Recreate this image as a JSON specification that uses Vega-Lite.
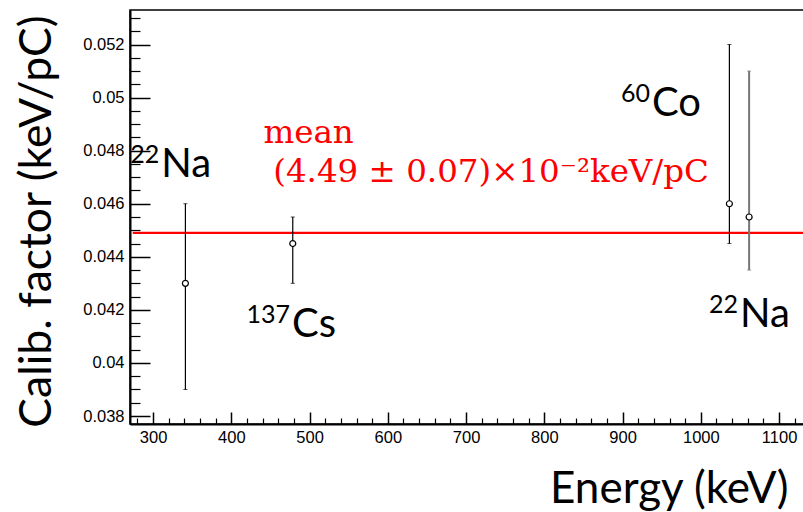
{
  "$schema": "https://vega.github.io/schema/vega-lite/v6.json",
  "width": 676,
  "height": 414,
  "autosize": {"type": "none"},
  "padding": {"left": 130, "top": 10, "right": 0, "bottom": 88},
  "background": "white",
  "config": {
    "view": {"stroke": "black", "strokeWidth": 1.5},
    "axis": {"grid": false, "domainColor": "black", "tickColor": "black", "labelColor": "black", "titleColor": "black"}
  },
  "datasets": {
    "pts": [
      {"E": 341.3, "v": 0.0430, "lo": 0.0390, "hi": 0.0460, "grp": "main"},
      {"E": 478.5, "v": 0.0445, "lo": 0.0430, "hi": 0.0455, "grp": "main"},
      {"E": 1036.5, "v": 0.0460, "lo": 0.0445, "hi": 0.0520, "grp": "main"},
      {"E": 1061.7, "v": 0.0455, "lo": 0.0435, "hi": 0.0510, "grp": "alt"}
    ],
    "labels": [
      {"iso": "22", "el": "Na", "E": 310.5, "v": 0.04701},
      {"iso": "137", "el": "Cs", "E": 477.5, "v": 0.04099},
      {"iso": "60", "el": "Co", "E": 937.5, "v": 0.04929},
      {"iso": "22", "el": "Na", "E": 1050, "v": 0.04137}
    ],
    "meanline": [{"mean": 0.0449, "xs": 274, "xe": 1133}],
    "meantext": [
      {"txt": "mean", "E": 441, "v": 0.04829},
      {"txt": "(4.49 ± 0.07)×10⁻²keV/pC", "E": 453.5, "v": 0.04683}
    ]
  },
  "resolve": {"scale": {"x": "independent", "y": "independent"}},
  "layer": [
    {
      "layer": [
        {
          "data": {"name": "meanline"},
          "mark": {"type": "rule", "color": "#ff0000", "strokeWidth": 2.4},
          "encoding": {
            "x": {"field": "xs", "type": "quantitative",
              "scale": {"domain": [270.5, 1134.4], "nice": false, "zero": false},
              "axis": {"orient": "bottom", "values": [300, 400, 500, 600, 700, 800, 900, 1000, 1100], "format": "d",
                "tickSize": -12, "tickWidth": 1.5, "domainWidth": 2, "labelPadding": 17,
                "labelFont": "Liberation Sans", "labelFontSize": 16.5, "labelBaseline": "top",
                "title": "Energy (keV)", "titleFont": "Lato", "titleFontSize": 44, "titleFontWeight": "normal",
                "titleAnchor": "end", "titleAlign": "right", "titleBaseline": "alphabetic",
                "titleX": 658, "titleY": 78}},
            "x2": {"field": "xe"},
            "y": {"field": "mean", "type": "quantitative",
              "scale": {"domain": [0.0377, 0.0533], "nice": false, "zero": false},
              "axis": {"orient": "left", "values": [0.038, 0.040, 0.042, 0.044, 0.046, 0.048, 0.050, 0.052],
                "format": "~g", "tickSize": -20, "tickWidth": 1.5, "domainWidth": 2, "labelPadding": 26,
                "labelFont": "Liberation Sans", "labelFontSize": 16.5,
                "title": "Calib. factor (keV/pC)", "titleFont": "Lato", "titleFontSize": 44.5, "titleFontWeight": "normal",
                "titleAngle": -90, "titleAlign": "center", "titleBaseline": "alphabetic",
                "titleX": -80, "titleY": 211}}
          }
        },
        {
          "data": {"name": "pts"},
          "mark": {"type": "rule"},
          "encoding": {
            "x": {"field": "E", "type": "quantitative"},
            "y": {"field": "lo", "type": "quantitative"},
            "y2": {"field": "hi"},
            "color": {"field": "grp", "type": "nominal", "scale": {"domain": ["main", "alt"], "range": ["black", "#777777"]}, "legend": null},
            "strokeWidth": {"field": "grp", "type": "nominal", "scale": {"domain": ["main", "alt"], "range": [1.2, 2]}, "legend": null}
          }
        },
        {
          "data": {"name": "pts"},
          "mark": {"type": "tick", "orient": "horizontal", "size": 4, "thickness": 1},
          "encoding": {
            "x": {"field": "E", "type": "quantitative"},
            "y": {"field": "lo", "type": "quantitative"},
            "color": {"field": "grp", "type": "nominal", "legend": null}
          }
        },
        {
          "data": {"name": "pts"},
          "mark": {"type": "tick", "orient": "horizontal", "size": 4, "thickness": 1},
          "encoding": {
            "x": {"field": "E", "type": "quantitative"},
            "y": {"field": "hi", "type": "quantitative"},
            "color": {"field": "grp", "type": "nominal", "legend": null}
          }
        },
        {
          "data": {"name": "pts"},
          "mark": {"type": "point", "shape": "circle", "filled": false, "fill": "white", "fillOpacity": 1, "stroke": "black", "strokeWidth": 1.2, "size": 36, "opacity": 1},
          "encoding": {
            "x": {"field": "E", "type": "quantitative"},
            "y": {"field": "v", "type": "quantitative"}
          }
        },
        {
          "data": {"name": "labels"},
          "mark": {"type": "text", "font": "Lato", "fontSize": 40, "align": "left", "baseline": "alphabetic", "color": "black"},
          "encoding": {
            "x": {"field": "E", "type": "quantitative"},
            "y": {"field": "v", "type": "quantitative"},
            "text": {"field": "el"}
          }
        },
        {
          "data": {"name": "labels"},
          "mark": {"type": "text", "font": "Lato", "fontSize": 25, "align": "right", "baseline": "alphabetic", "dx": -2, "dy": -14, "color": "black"},
          "encoding": {
            "x": {"field": "E", "type": "quantitative"},
            "y": {"field": "v", "type": "quantitative"},
            "text": {"field": "iso"}
          }
        },
        {
          "data": {"name": "meantext"},
          "mark": {"type": "text", "font": "DejaVu Serif", "fontSize": 32.5, "align": "left", "baseline": "alphabetic", "color": "#ff0000"},
          "encoding": {
            "x": {"field": "E", "type": "quantitative"},
            "y": {"field": "v", "type": "quantitative"},
            "text": {"field": "txt"}
          }
        }
      ]
    },
    {
      "data": {"name": "pts"},
      "mark": {"type": "point", "opacity": 0},
      "encoding": {
        "x": {"field": "E", "type": "quantitative",
          "scale": {"domain": [270.5, 1134.4], "nice": false, "zero": false},
          "axis": {"orient": "bottom", "values": [280, 320, 340, 360, 380, 420, 440, 460, 480, 520, 540, 560, 580, 620, 640, 660, 680, 720, 740, 760, 780, 820, 840, 860, 880, 920, 940, 960, 980, 1020, 1040, 1060, 1080, 1120],
            "tickSize": -6, "tickWidth": 1.2, "domain": false, "labels": false, "title": null}},
        "y": {"field": "v", "type": "quantitative",
          "scale": {"domain": [0.0377, 0.0533], "nice": false, "zero": false},
          "axis": {"orient": "left", "values": [0.0385, 0.039, 0.0395, 0.0405, 0.041, 0.0415, 0.0425, 0.043, 0.0435, 0.0445, 0.045, 0.0455, 0.0465, 0.047, 0.0475, 0.0485, 0.049, 0.0495, 0.0505, 0.051, 0.0515, 0.0525, 0.053],
            "tickSize": -10, "tickWidth": 1.2, "domain": false, "labels": false, "title": null}}
      }
    }
  ]
}
